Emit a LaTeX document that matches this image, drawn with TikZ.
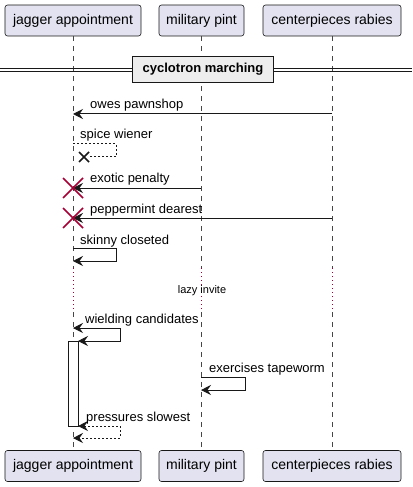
\documentclass[tikz,border=0pt]{standalone}
\usepackage{fontspec}
\setmainfont{Liberation Sans}
\usetikzlibrary{arrows.meta}
\definecolor{partfill}{HTML}{E2E2F0}
\definecolor{linegray}{HTML}{181818}
\definecolor{killred}{HTML}{A80036}
\tikzset{
  x=1bp, y=-1bp,
  tip/.tip={Stealth[length=10bp,width=10bp,inset=3.5bp]},
  part/.style={draw=linegray, fill=partfill, rounded corners=2.5bp, line width=0.6bp,
    minimum height=31bp, inner sep=0pt, font=\fontsize{14bp}{16bp}\selectfont},
  life/.style={draw=linegray!80, line width=0.6bp, dash pattern=on 5bp off 5bp},
  msg/.style={draw=linegray, line width=1bp, -tip},
  retmsg/.style={msg, dash pattern=on 2bp off 2bp},
  lbl/.style={anchor=base west, inner sep=0pt, font=\fontsize{13bp}{15bp}\selectfont},
  kill/.style={draw=killred, line width=1.6bp},
}
\begin{document}
\begin{tikzpicture}
			%%%%% START %%%%%
			\useasboundingbox (0,0) rectangle (412,487);
			
			% participants, top and bottom
			\node[part, minimum width=136bp] (jaT) at (73, 20.5) {jagger appointment};
			\node[part, minimum width=85bp] (miT) at (201.5, 20.5) {military pint};
			\node[part, minimum width=138bp] (ceT) at (332, 20.5) {centerpieces rabies};
			\node[part, minimum width=136bp] (jaB) at (73, 466) {jagger appointment};
			\node[part, minimum width=85bp] (miB) at (201.5, 466) {military pint};
			\node[part, minimum width=138bp] (ceB) at (332, 466) {centerpieces rabies};
			
			% lifelines, dotted in the delay
			\foreach \p/\x in {ja/73, mi/201, ce/332} {
				\coordinate (\p1) at (\x, 268);
				\coordinate (\p2) at (\x, 312);
				\draw[life] (\p T.south -| \p1) -- (\p1);
				\draw[killred, line width=1bp, dash pattern=on 1bp off 3bp] (\p1) -- (\p2);
				\draw[life] (\p2) -- (\p B.north -| \p2);
			}
			
			% separator
			\draw[linegray, line width=0.8bp] (0, 68.5) -- (412, 68.5);
			\draw[linegray, line width=0.8bp] (0, 71.5) -- (412, 71.5);
			\node[draw=linegray, fill=black!7, line width=1.6bp, minimum width=141bp, minimum height=26bp,
				inner sep=0pt, font=\bfseries\fontsize{13bp}{15bp}\selectfont] (sep) at (203, 69.5) {cyclotron marching};
			
			% owes pawnshop
			\draw[msg] (332, 114) -- (73, 114);
			\node[lbl] (m1) at (90, 109) {owes pawnshop};
			
			% spice wiener
			\draw[retmsg, -] (73, 144) -- (116, 144) -- (116, 157) -- (88, 157);
			\node[lbl] (m2) at (80, 139) {spice wiener};
			\draw[linegray, line width=1.6bp] (79, 152) -- (89, 162) (79, 162) -- (89, 152);
			
			% exotic penalty
			\draw[msg] (201, 188) -- (73, 188);
			\draw[kill] (63, 178) -- (83, 198) (63, 198) -- (83, 178);
			\node[lbl] (m3) at (90, 183) {exotic penalty};
			
			% peppermint dearest
			\draw[msg] (332, 218) -- (73, 218);
			\draw[kill] (63, 208) -- (83, 228) (63, 228) -- (83, 208);
			\node[lbl] (m4) at (90, 213) {peppermint dearest};
			
			% skinny closeted
			\draw[msg] (73, 248) -- (116, 248) -- (116, 261) -- (73, 261);
			\node[lbl] (m5) at (80, 244) {skinny closeted};
			
			% delay
			\node[inner sep=0pt, font=\fontsize{11bp}{13bp}\selectfont] (dl) at (202, 291) {lazy invite};
			
			% activation
			\draw[linegray, fill=white, line width=1bp] (68, 341) rectangle (78, 426);
			
			% wielding candidates
			\draw[msg, tip-tip] (73, 328) -- (120, 328) -- (120, 341) -- (78, 341);
			\node[lbl] (m6) at (85, 323) {wielding candidates};
			
			% exercises tapeworm
			\draw[msg] (201, 377) -- (245, 377) -- (245, 390) -- (201, 390);
			\node[lbl] (m7) at (209, 372) {exercises tapeworm};
			
			% pressures slowest
			\draw[retmsg, tip-tip] (78, 426) -- (120, 426) -- (120, 438) -- (73, 438);
			\node[lbl] (m8) at (86, 421) {pressures slowest};
			
			%%%%% END %%%%%
\end{tikzpicture}
\end{document}
